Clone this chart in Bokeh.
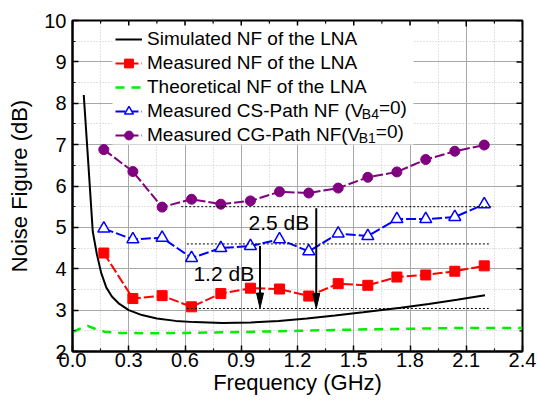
from bokeh.plotting import figure
from bokeh.models import (FixedTicker, Legend, LegendItem, Range1d,
                          PrintfTickFormatter, Label, BoxAnnotation)
from bokeh.core.properties import value
from bokeh.embed import file_html
from bokeh.resources import INLINE

FONT = "Liberation Sans"

# ---------------- data ----------------
freq = [0.167, 0.322, 0.478, 0.635, 0.791, 0.949, 1.104, 1.26, 1.417, 1.575, 1.73, 1.884, 2.039, 2.196]
meas_nf = [4.38, 3.28, 3.35, 3.08, 3.40, 3.53, 3.51, 3.34, 3.64, 3.60, 3.80, 3.85, 3.94, 4.07]
cs_nf = [4.97, 4.71, 4.75, 4.26, 4.50, 4.55, 4.71, 4.42, 4.85, 4.79, 5.20, 5.20, 5.25, 5.56]
cg_nf = [6.88, 6.35, 5.49, 5.68, 5.56, 5.64, 5.86, 5.83, 5.95, 6.21, 6.34, 6.64, 6.84, 6.99]

sim_f = [0.06, 0.085, 0.108, 0.13, 0.153, 0.18, 0.21, 0.25, 0.3, 0.37, 0.45, 0.55, 0.65, 0.8,
         0.95, 1.1, 1.25, 1.4, 1.55, 1.75, 1.9, 2.05, 2.2]
sim_nf = [8.2, 6.5, 4.9, 4.35, 3.9, 3.55, 3.33, 3.15, 3.0, 2.88, 2.8, 2.74, 2.71, 2.69,
          2.7, 2.74, 2.8, 2.87, 2.95, 3.06, 3.15, 3.25, 3.36]

theo_f = [0.0, 0.04, 0.08, 0.12, 0.17, 0.25, 0.4, 0.6, 0.9, 1.2, 1.5, 1.8, 2.1, 2.4]
theo_nf = [2.47, 2.55, 2.62, 2.55, 2.48, 2.45, 2.44, 2.45, 2.47, 2.5, 2.53, 2.55, 2.57, 2.57]

x_ticks = [0.0, 0.3, 0.6, 0.9, 1.2, 1.5, 1.8, 2.1, 2.4]
x_minor = [0.15, 0.45, 0.75, 1.05, 1.35, 1.65, 1.95, 2.25]
y_ticks = [2, 3, 4, 5, 6, 7, 8, 9, 10]
y_minor = [2.5, 3.5, 4.5, 5.5, 6.5, 7.5, 8.5, 9.5]

# reference (dotted) lines and arrows
ref_x0 = [0.58, 0.61, 0.61]
ref_x1 = [2.245, 2.23, 2.22]
ref_y = [5.5, 4.6, 3.04]
arrow_x = [1.0, 1.3]
arrow_top = [4.55, 5.46]
arrow_tip = [3.05, 3.04]
ann_x = [0.645, 0.939]
ann_y = [3.89, 5.12]
ann_text = ["1.2 dB", "2.5 dB"]

W, H = 538, 401
BL, BR, BT, BB = 72, 16, 20, 50
FW, FH = W - BL - BR, H - BT - BB
X0, X1, Y0, Y1 = 0.0, 2.4, 2.0, 10.0

p = figure(width=W, height=H, x_range=Range1d(X0, X1), y_range=Range1d(Y0, Y1),
           output_backend="svg", toolbar_location=None,
           min_border_left=BL, min_border_right=BR, min_border_top=BT, min_border_bottom=BB)
p.background_fill_color = "white"
p.border_fill_color = "white"
p.outline_line_color = "black"
p.outline_line_width = 2

p.xaxis.ticker = FixedTicker(ticks=x_ticks, minor_ticks=x_minor)
p.yaxis.ticker = FixedTicker(ticks=y_ticks, minor_ticks=y_minor)
p.xaxis.formatter = PrintfTickFormatter(format="%.1f")
p.xaxis.axis_label = "Frequency (GHz)"
p.yaxis.axis_label = "Noise Figure (dB)"

for ax in [p.xaxis[0], p.yaxis[0]]:
    ax.major_label_text_font = FONT
    ax.major_label_text_font_size = "20px"
    ax.major_label_text_color = "black"
    ax.axis_label_text_font = FONT
    ax.axis_label_text_font_size = "22px"
    ax.axis_label_text_font_style = "normal"
    ax.axis_label_text_color = "black"
    ax.axis_line_color = "black"
    ax.axis_line_width = 2
    ax.major_tick_in = 6
    ax.major_tick_out = 0
    ax.minor_tick_in = 3
    ax.minor_tick_out = 0
    ax.major_tick_line_color = "black"
    ax.major_tick_line_width = 1.5
    ax.minor_tick_line_color = "black"
    ax.minor_tick_line_width = 1.2
p.xaxis.major_label_standoff = 1
p.xaxis.axis_label_standoff = 0
p.yaxis.major_label_standoff = 6
p.yaxis.axis_label_standoff = 9

for g in [p.xgrid[0], p.ygrid[0]]:
    g.grid_line_color = "#a8a8a8"
    g.grid_line_width = 1
    g.minor_grid_line_color = "#c4c4c4"
    g.minor_grid_line_dash = "1 2"
    g.minor_grid_line_width = 1

px_x = FW / (X1 - X0)
px_y = FH / (Y1 - Y0)

# inward ticks on the top and right frame edges
p.segment(x0=x_ticks, y0=[Y1] * len(x_ticks), x1=x_ticks, y1=[Y1 - 6 / px_y] * len(x_ticks),
          line_color="black", line_width=1.5)
p.segment(x0=x_minor, y0=[Y1] * len(x_minor), x1=x_minor, y1=[Y1 - 3 / px_y] * len(x_minor),
          line_color="black", line_width=1.2)
p.segment(x0=[X1] * len(y_ticks), y0=y_ticks, x1=[X1 - 6 / px_x] * len(y_ticks), y1=y_ticks,
          line_color="black", line_width=1.5)
p.segment(x0=[X1] * len(y_minor), y0=y_minor, x1=[X1 - 3 / px_x] * len(y_minor), y1=y_minor,
          line_color="black", line_width=1.2)

# ---------------- marks ----------------
theo_r = p.line(theo_f, theo_nf, line_color="#00ee00", line_width=2.5, line_dash="9 7")
sim_r = p.line(sim_f, sim_nf, line_color="black", line_width=2)

meas_l = p.line(freq, meas_nf, line_color="red", line_width=2, line_dash="10 3")
meas_m = p.scatter(freq, meas_nf, marker="square", size=10, fill_color="red", line_color="red")

cs_l = p.line(freq, cs_nf, line_color="blue", line_width=2, line_dash="10 3")
cs_m = p.scatter(freq, cs_nf, marker="triangle", size=12, fill_color="white",
                 line_color="blue", line_width=1.5)

cg_l = p.line(freq, cg_nf, line_color="purple", line_width=2, line_dash="10 3")
cg_m = p.scatter(freq, cg_nf, marker="circle", size=10, fill_color="purple", line_color="purple")

# dotted reference lines
p.segment(x0=ref_x0, y0=ref_y, x1=ref_x1, y1=ref_y, line_color="black",
          line_width=1, line_dash="2 2")

# arrows
head_len = 15 / px_y
head_half = 3.5 / px_x
p.segment(x0=arrow_x, y0=arrow_top, x1=arrow_x, y1=[t + head_len * 0.8 for t in arrow_tip],
          line_color="black", line_width=2)
p.patches(xs=[[x - head_half, x, x + head_half] for x in arrow_x],
          ys=[[t + head_len, t, t + head_len] for t in arrow_tip],
          fill_color="black", line_color="black", line_width=1)

p.text(x=ann_x, y=ann_y, text=ann_text, text_font=value(FONT), text_font_size="21px",
       text_baseline="middle", text_align="left", text_color="black")

# ---------------- legend ----------------
def to_x(px):
    return X0 + (px - BL) / px_x

def to_y(py):
    return Y1 - (py - BT) / px_y

# white panel behind the legend (legend itself is transparent so that the
# subscript labels can be drawn on top)
p.add_layout(BoxAnnotation(left=to_x(112), right=to_x(413), top=to_y(25), bottom=to_y(144),
                           fill_color="white", fill_alpha=1.0, line_color=None))

legend = Legend(items=[
    LegendItem(label="Simulated NF of the LNA", renderers=[sim_r]),
    LegendItem(label="Measured NF of the LNA", renderers=[meas_l, meas_m]),
    LegendItem(label="Theoretical NF of the LNA", renderers=[theo_r]),
    LegendItem(label="Measured CS-Path NF (V", renderers=[cs_l, cs_m]),
    LegendItem(label="Measured CG-Path NF(V", renderers=[cg_l, cg_m]),
], location=(43, 205), glyph_width=27, glyph_height=22, label_height=22, spacing=2,
    padding=4, margin=0, label_standoff=5,
    border_line_color=None, background_fill_alpha=0.0,
    label_text_font=FONT, label_text_font_size="19px", label_text_color="black")
p.add_layout(legend)

sub_specs = [
    ("B4", 361.3, 113.3, "14px"), ("=0)", 378.4, 107.3, "19px"),
    ("B1", 358.2, 137.3, "14px"), ("=0)", 375.3, 131.3, "19px"),
]
for txt, sx, sy, fs in sub_specs:
    p.add_layout(Label(x=to_x(sx), y=to_y(sy), text=txt, text_font=FONT, text_font_size=fs,
                       text_baseline="middle", text_align="left", text_color="black",
                       level="overlay"))

open("out.html", "w").write(file_html(p, INLINE))
